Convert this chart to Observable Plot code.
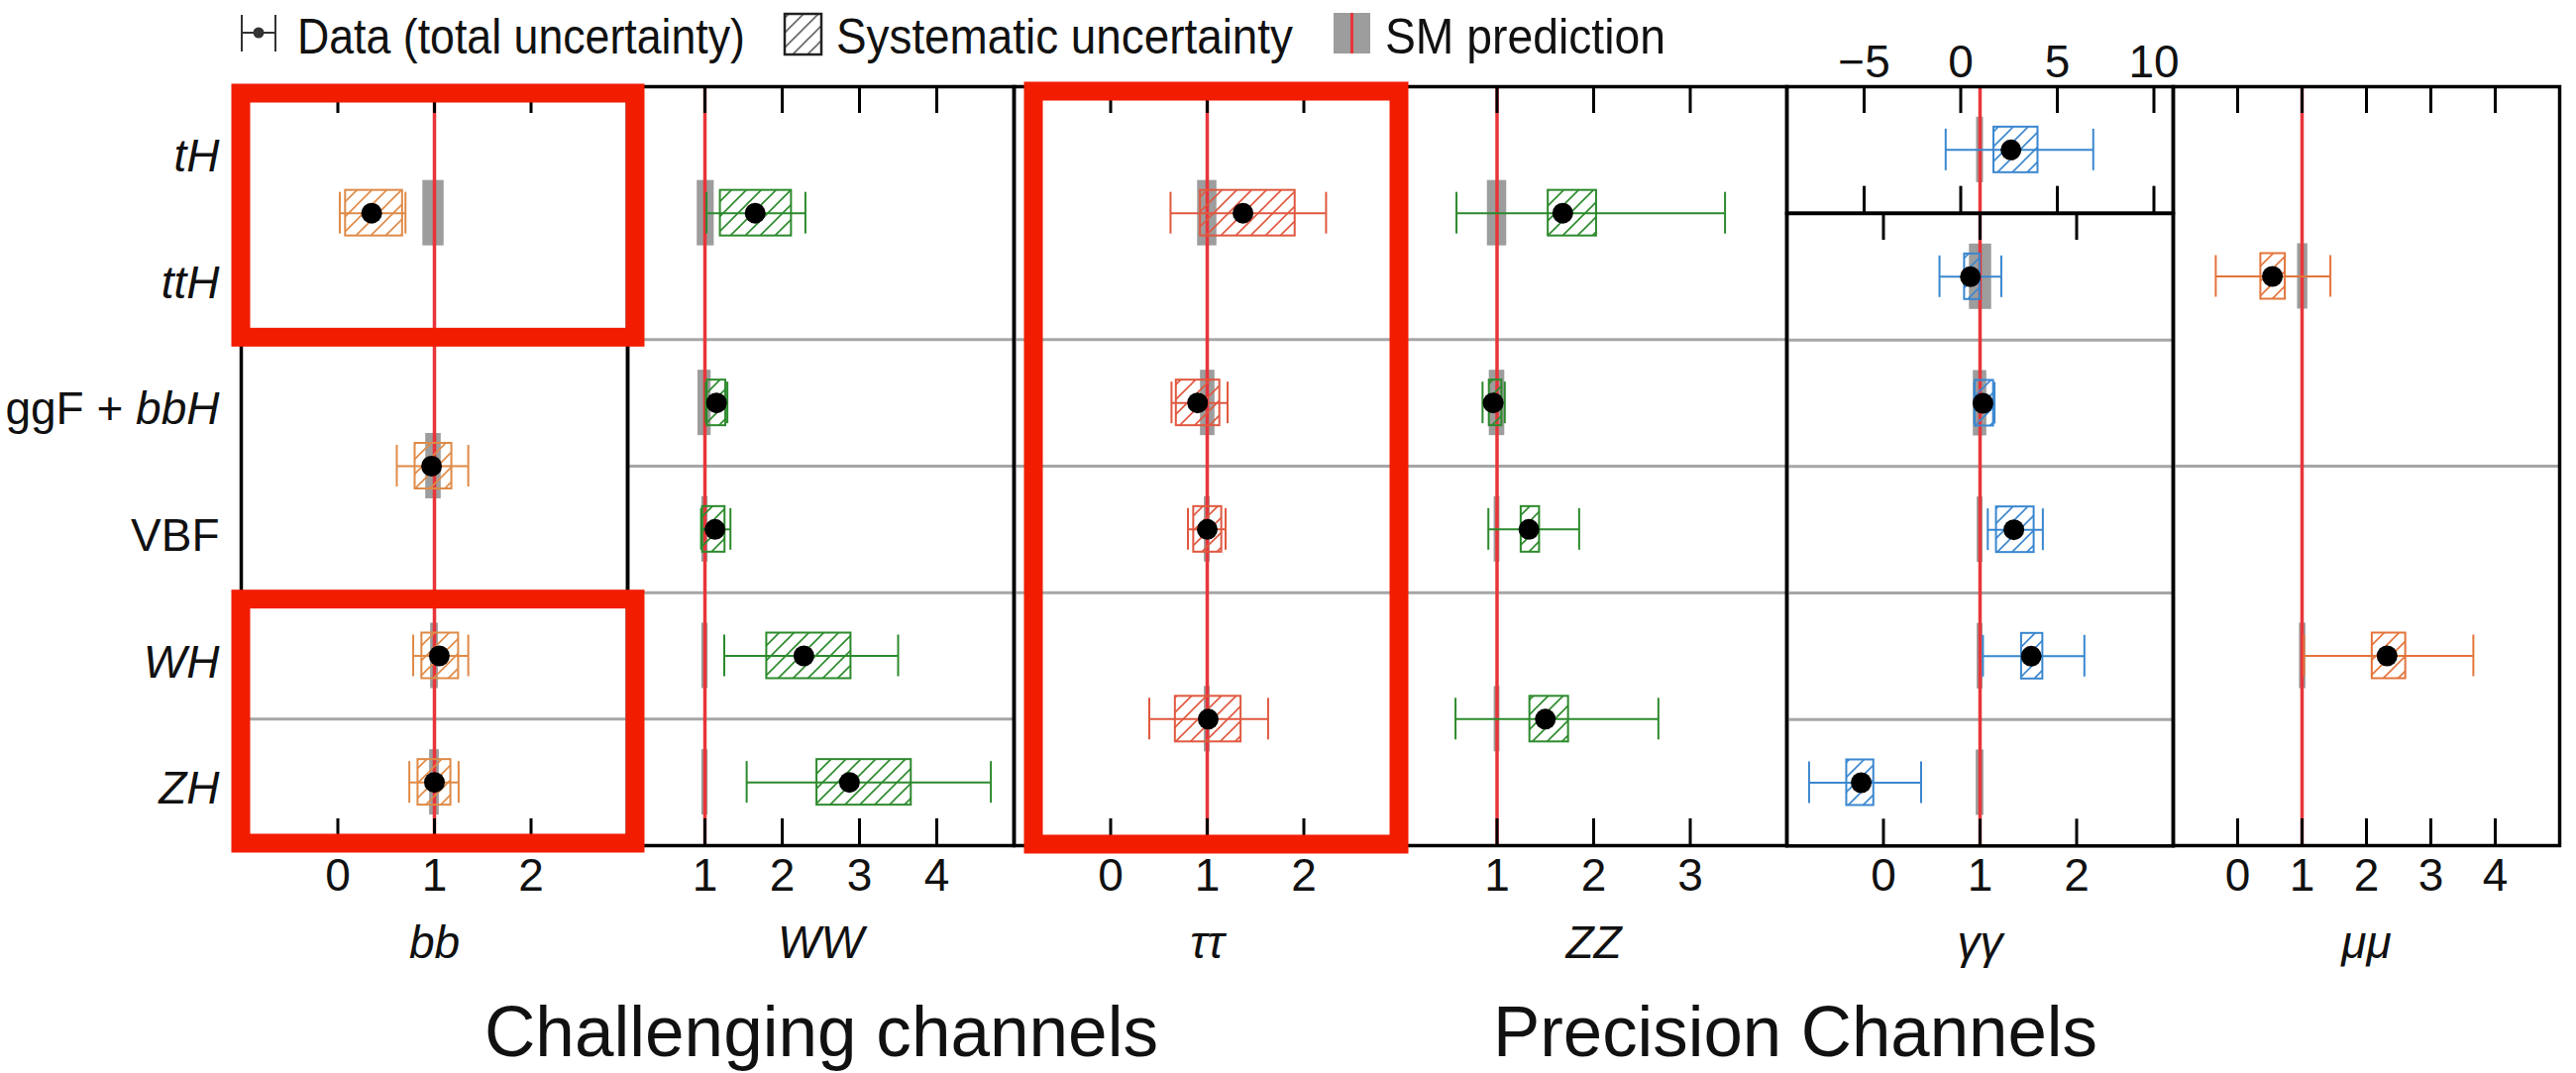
<!DOCTYPE html>
<html>
<head>
<meta charset="utf-8">
<script src="https://cdn.jsdelivr.net/npm/d3@7"></script>
<script src="https://cdn.jsdelivr.net/npm/@observablehq/plot@0.6"></script>
<style>
  body { margin: 0; background: #fff; }
  #chart { position: relative; width: 2600px; height: 1083px; overflow: hidden; background: #fff;
           font-family: "Liberation Sans", Arial, Helvetica, sans-serif; }
  .panel { position: absolute; }
  #overlay { position: absolute; left: 0; top: 0; }
</style>
</head>
<body>
<div id="chart"></div>
<script>
// ---------------- data ----------------
const productionModes = ["tH", "ttH", "ggF + bbH", "VBF", "WH", "ZH"];
const italicModes = ["tH", "ttH", "WH", "ZH"];
const channels = ["bb", "WW", "ττ", "ZZ", "γγ", "μμ"];

// measurement groups: which production-mode rows each one covers
const groupNames    = ["ttH+tH", "tH", "ttH", "ggF+VBF", "ggF", "VBF", "WH", "ZH", "VH", "ggF+bbH+ttH", "VBF+VH"];
const groupFirstRow = [0, 0, 1, 2, 2, 3, 4, 5, 4, 0, 3];
const groupLastRow  = [1, 0, 1, 3, 2, 3, 4, 5, 5, 2, 5];

// [group, mu, total low, total high, syst low, syst high, SM low, SM high]
const bbValues = [
  ["ttH+tH", 0.35, 0.02, 0.70, 0.08, 0.67, 0.88, 1.10],
  ["ggF+VBF", 0.97, 0.61, 1.35, 0.80, 1.18, 0.91, 1.07],
  ["WH", 1.05, 0.78, 1.35, 0.87, 1.25, 0.96, 1.04],
  ["ZH", 1.00, 0.74, 1.25, 0.83, 1.17, 0.95, 1.05]
];
const wwValues = [
  ["ttH+tH", 1.65, 1.02, 2.30, 1.20, 2.12, 0.90, 1.12],
  ["ggF", 1.15, 1.01, 1.29, 1.03, 1.27, 0.91, 1.08],
  ["VBF", 1.13, 0.95, 1.33, 0.97, 1.26, 0.96, 1.04],
  ["WH", 2.28, 1.25, 3.50, 1.80, 2.89, 0.96, 1.04],
  ["ZH", 2.87, 1.54, 4.70, 2.45, 3.67, 0.96, 1.04]
];
const tautauValues = [
  ["ttH+tH", 1.37, 0.62, 2.23, 0.93, 1.91, 0.90, 1.10],
  ["ggF", 0.90, 0.63, 1.21, 0.68, 1.13, 0.93, 1.08],
  ["VBF", 1.00, 0.80, 1.19, 0.86, 1.15, 0.97, 1.03],
  ["VH", 1.01, 0.40, 1.63, 0.67, 1.35, 0.97, 1.03]
];
const zzValues = [
  ["ttH+tH", 1.68, 0.58, 3.36, 1.53, 2.03, 0.90, 1.10],
  ["ggF", 0.96, 0.85, 1.08, 0.92, 1.05, 0.92, 1.08],
  ["VBF", 1.33, 0.91, 1.85, 1.25, 1.44, 0.97, 1.03],
  ["VH", 1.50, 0.57, 2.67, 1.34, 1.74, 0.97, 1.03]
];
const gammaTHValues = [
  ["tH", 2.6, -0.78, 6.86, 1.72, 4.0, 0.82, 1.18]
];
const gammaValues = [
  ["ttH", 0.90, 0.58, 1.22, 0.84, 1.00, 0.89, 1.12],
  ["ggF", 1.03, 0.94, 1.15, 0.95, 1.14, 0.93, 1.07],
  ["VBF", 1.35, 1.08, 1.65, 1.17, 1.56, 0.97, 1.03],
  ["WH", 1.53, 1.03, 2.08, 1.43, 1.65, 0.97, 1.03],
  ["ZH", -0.23, -0.77, 0.39, -0.38, -0.10, 0.96, 1.04]
];
const mumuValues = [
  ["ggF+bbH+ttH", 0.54, -0.34, 1.44, 0.36, 0.74, 0.93, 1.09],
  ["VBF+VH", 2.32, 1.03, 3.66, 2.09, 2.61, 0.96, 1.06]
];

// axis domains and ticks
const bbDomain = [-1, 3],   bbTicks = [0, 1, 2];
const wwDomain = [0, 5],    wwTicks = [1, 2, 3, 4];
const tautauDomain = [-1, 3], tautauTicks = [0, 1, 2];
const zzDomain = [0, 4],    zzTicks = [1, 2, 3];
const gammaTHDomain = [-9, 11], gammaTHTicks = [-5, 0, 5, 10];
const gammaDomain = [-1, 3], gammaTicks = [0, 1, 2];
const mumuDomain = [-1, 5], mumuTicks = [0, 1, 2, 3, 4];

// highlighted groups of rows (annotation boxes)
const bbHighlights = [[0, 1], [4, 5]];
const tautauHighlights = [[0, 5]];

const legendLabels = ["Data (total uncertainty)", "Systematic uncertainty", "SM prediction"];
const captions = ["Challenging channels", "Precision Channels"];

// ---------------- styles ----------------
const colors = {bb: "#df8a47", WW: "#2c8a2c", "ττ": "#e0583f", ZZ: "#2c8a2c", "γγ": "#3a87cf", "μμ": "#e4743a"};
const RED = "#e8353a";
const HL = "#f21c00";
const FONT = "'Liberation Sans', Arial, Helvetica, sans-serif";
const PW = 390;           // panel width
const R = 766 / 6;        // row height
const TOP = 87;           // frame top
const LEFT0 = 243;        // first panel left

const chart = d3.select("#chart");

// hatch patterns
const defs = chart.append("svg").attr("width", 0).attr("height", 0)
  .style("position", "absolute").append("defs");
const patternColors = Object.entries(colors).map(([k, c], i) => ({id: "hatch" + i, key: k, c}));
patternColors.push({id: "hatchLegend", key: "legend", c: "#666"});
for (const p of patternColors) {
  const pat = defs.append("pattern").attr("id", p.id).attr("patternUnits", "userSpaceOnUse")
    .attr("width", 15).attr("height", 15);
  pat.append("path").attr("d", "M-4,4 L4,-4 M0,15 L15,0 M11,19 L19,11")
    .attr("stroke", p.c).attr("stroke-width", 1.6).attr("fill", "none");
}
const hatchOf = key => `url(#${patternColors.find(p => p.key === key).id})`;

const fmt = d => d < 0 ? "\u2212" + Math.abs(d) : String(d);

function makePanel({values, domain, ticks, channel, yDomain = [0, 6], label = null,
                    bottomText = true, topText = false, highlights = [], hlInsets = {},
                    marginLeft = 0, marginBottom = 130, rowLabels = false}) {
  const color = colors[channel];
  const ph = (yDomain[1] - yDomain[0]) * R;
  const rec = values.map(([g, mu, tl, th, sl, sh, ml, mh]) => {
    const gi = groupNames.indexOf(g);
    return {g, mu, tl, th, sl, sh, ml, mh, r0: groupFirstRow[gi], y: (groupFirstRow[gi] + groupLastRow[gi] + 1) / 2};
  });
  const seps = rec.map(d => d.r0).filter(r => r > yDomain[0]);
  const caps = rec.flatMap(d => [{x: d.tl, y: d.y}, {x: d.th, y: d.y}]);
  const marks = [
    Plot.ruleY(seps, {y: d => d, stroke: "#a6a6a6", strokeWidth: 3}),
    Plot.rect(rec, {x1: "ml", x2: "mh", y1: "y", y2: "y", insetTop: -33, insetBottom: -33, fill: "#9d9d9d"}),
    Plot.ruleX([1], {x: d => d, stroke: RED, strokeWidth: 3.5}),
    Plot.ruleY(rec, {y: "y", x1: "tl", x2: "th", stroke: color, strokeWidth: 2}),
    Plot.ruleX(caps, {x: "x", y1: "y", y2: "y", insetTop: -21, insetBottom: -21, stroke: color, strokeWidth: 2}),
    Plot.rect(rec, {x1: "sl", x2: "sh", y1: "y", y2: "y", insetTop: -23, insetBottom: -23,
                    fill: hatchOf(channel), stroke: color, strokeWidth: 2}),
    Plot.dot(rec, {x: "mu", y: "y", r: 10.5, fill: "black"}),
    Plot.ruleX(ticks, {x: d => d, y1: () => yDomain[0], y2: () => yDomain[0], insetBottom: -27, stroke: "black", strokeWidth: 3}),
    Plot.ruleX(ticks, {x: d => d, y1: () => yDomain[1], y2: () => yDomain[1], insetTop: -27, stroke: "black", strokeWidth: 3}),
    Plot.frame({stroke: "black", strokeWidth: 3.5})
  ];
  if (bottomText) marks.push(Plot.text(ticks, {x: d => d, text: d => fmt(d), frameAnchor: "bottom", lineAnchor: "bottom", dy: 45, fontSize: 46, fill: "#111"}));
  if (topText) marks.push(Plot.text(ticks, {x: d => d, text: d => fmt(d), frameAnchor: "top", lineAnchor: "bottom", dy: -10, fontSize: 46, fill: "#111"}));
  if (label) marks.push(Plot.text([label], {text: d => d, frameAnchor: "bottom", lineAnchor: "bottom", dy: 113, fontSize: 46, fontStyle: "italic", fill: "#111"}));
  if (rowLabels) {
    marks.push(Plot.text(productionModes.map((m, i) => ({m, i})).filter(d => italicModes.includes(d.m)),
      {y: d => d.i + 0.5, text: "m", frameAnchor: "left", textAnchor: "end", dx: -22, dy: 7, fontSize: 46, fontStyle: "italic", fill: "#111"}));
    marks.push(Plot.text(productionModes.map((m, i) => ({m, i})).filter(d => !italicModes.includes(d.m)),
      {y: d => d.i + 0.5, text: "m", frameAnchor: "left", textAnchor: "end", dx: -22, dy: 7, fontSize: 46, fill: "#111"}));
  }
  if (highlights.length) {
    marks.push(Plot.rect(highlights, {x1: () => domain[0], x2: () => domain[1], y1: d => d[0], y2: d => d[1] + 1,
      fill: "none", stroke: HL, strokeWidth: 19, ...hlInsets}));
  }
  const svg = Plot.plot({
    width: marginLeft + PW, height: ph + marginBottom,
    marginLeft, marginRight: 0, marginTop: 0, marginBottom,
    x: {domain, range: [marginLeft, marginLeft + PW], axis: null},
    y: {domain: yDomain, range: [0, ph], axis: null},
    style: {background: "transparent", overflow: "visible", fontFamily: FONT, fontSize: "46px", maxWidth: "none"},
    marks
  });
  if (rowLabels) {
    d3.select(svg).selectAll("text").filter(function () { return this.textContent === "ggF + bbH"; })
      .each(function () {
        const t = d3.select(this); t.text(null);
        t.append("tspan").text("ggF + ");
        t.append("tspan").attr("font-style", "italic").text("bbH");
      });
  }
  return svg;
}

function place(svg, left, top, z) {
  chart.append("div").attr("class", "panel").style("left", left + "px").style("top", top + "px")
    .style("z-index", z).node().appendChild(svg);
}

place(makePanel({values: bbValues, domain: bbDomain, ticks: bbTicks, channel: "bb", label: channels[0],
  marginLeft: LEFT0, rowLabels: true, highlights: bbHighlights,
  hlInsets: {insetLeft: 0, insetRight: -8, insetTop: 7, insetBottom: 2}}), 0, TOP, 5);
place(makePanel({values: wwValues, domain: wwDomain, ticks: wwTicks, channel: "WW", label: channels[1]}), LEFT0 + PW, TOP, 1);
place(makePanel({values: tautauValues, domain: tautauDomain, ticks: tautauTicks, channel: "ττ", label: channels[2],
  highlights: tautauHighlights, hlInsets: {insetLeft: 20, insetRight: 1, insetTop: 5, insetBottom: 1}}), LEFT0 + 2 * PW, TOP, 5);
place(makePanel({values: zzValues, domain: zzDomain, ticks: zzTicks, channel: "ZZ", label: channels[3]}), LEFT0 + 3 * PW, TOP, 1);
place(makePanel({values: gammaTHValues, domain: gammaTHDomain, ticks: gammaTHTicks, channel: "γγ",
  yDomain: [0, 1], bottomText: false, topText: true, marginBottom: 0}), LEFT0 + 4 * PW, TOP, 1);
place(makePanel({values: gammaValues, domain: gammaDomain, ticks: gammaTicks, channel: "γγ", label: channels[4],
  yDomain: [1, 6]}), LEFT0 + 4 * PW, TOP + R, 1);
place(makePanel({values: mumuValues, domain: mumuDomain, ticks: mumuTicks, channel: "μμ", label: channels[5]}), LEFT0 + 5 * PW, TOP, 1);

// ---------------- legend and captions ----------------
const ov = chart.append("svg").attr("id", "overlay").attr("width", 2600).attr("height", 1083)
  .style("z-index", 10).style("pointer-events", "none").attr("font-family", FONT);
const lg = ov.append("g");
// data icon
lg.append("line").attr("x1", 244).attr("x2", 278).attr("y1", 33).attr("y2", 33).attr("stroke", "#333").attr("stroke-width", 2);
lg.append("line").attr("x1", 244).attr("x2", 244).attr("y1", 15).attr("y2", 52).attr("stroke", "#333").attr("stroke-width", 2);
lg.append("line").attr("x1", 278).attr("x2", 278).attr("y1", 15).attr("y2", 52).attr("stroke", "#333").attr("stroke-width", 2);
lg.append("circle").attr("cx", 261).attr("cy", 33).attr("r", 5.5).attr("fill", "#333");
// systematic icon
lg.append("rect").attr("x", 792).attr("y", 14).attr("width", 37).attr("height", 41)
  .attr("fill", "url(#hatchLegend)").attr("stroke", "#222").attr("stroke-width", 2.5);
// SM icon
lg.append("rect").attr("x", 1346).attr("y", 13).attr("width", 37).attr("height", 41).attr("fill", "#9d9d9d");
lg.append("line").attr("x1", 1364.5).attr("x2", 1364.5).attr("y1", 13).attr("y2", 54).attr("stroke", RED).attr("stroke-width", 3);
// legend texts (narrow, tall glyphs like the original)
const legendX = [300, 844, 1398], legendW = [452, 461, 283];
legendLabels.forEach((t, i) => {
  lg.append("text").attr("x", legendX[i]).attr("y", 54).attr("font-size", 50).attr("fill", "#111")
    .attr("textLength", legendW[i]).attr("lengthAdjust", "spacingAndGlyphs").text(t);
});

const captionX = [489, 1507], captionW = [680, 610];
captions.forEach((t, i) => {
  ov.append("text").attr("x", captionX[i]).attr("y", 1066).attr("font-size", 72).attr("fill", "#111")
    .attr("textLength", captionW[i]).attr("lengthAdjust", "spacingAndGlyphs").text(t);
});
</script>
</body>
</html>
